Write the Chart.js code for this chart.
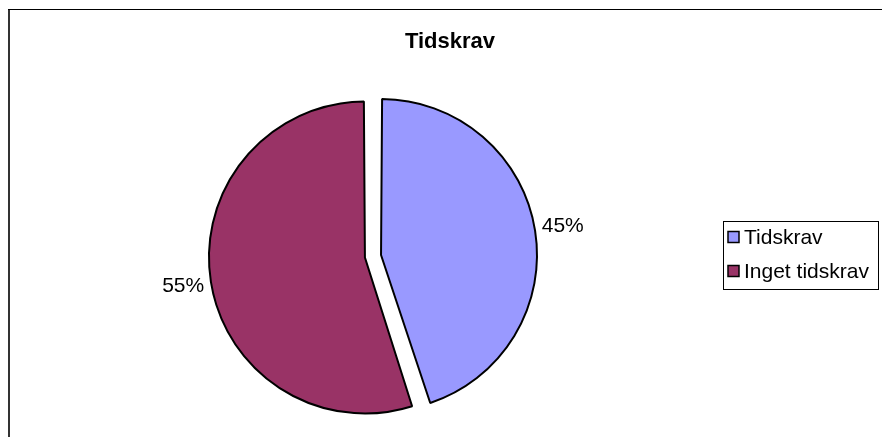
<!DOCTYPE html>
<html>
<head>
<meta charset="utf-8">
<script src="https://cdn.jsdelivr.net/npm/chart.js@4/dist/chart.umd.min.js"></script>
<style>
  html, body { margin: 0; padding: 0; background: #fff; }
  #wrap { width: 882px; height: 437px; }
</style>
</head>
<body>
<div id="wrap"><canvas id="chart" width="882" height="437"></canvas></div>
<script>
const title = 'Tidskrav';
const labels = ['Tidskrav', 'Inget tidskrav'];
const values = [45, 55];
const colors = ['#9999FF', '#993366'];
// explode amounts (Chart.js moves a slice by offset / 4)
const offsets = [38.6, 26.6];

const font = '"Liberation Sans", Arial, sans-serif';

// frame, title, percent labels and legend box
const decor = {
  id: 'decor',
  beforeDraw(chart) {
    const ctx = chart.ctx;
    ctx.save();
    ctx.fillStyle = '#fff';
    ctx.fillRect(0, 0, chart.width, chart.height);
    ctx.fillStyle = '#333';
    ctx.fillRect(8, 9, 2, chart.height);
    ctx.fillStyle = '#000';
    ctx.fillRect(8, 9, chart.width, 1);
    ctx.restore();
  },
  afterDraw(chart) {
    const ctx = chart.ctx;
    const meta = chart.getDatasetMeta(0);
    const total = values.reduce((a, b) => a + b, 0);
    ctx.save();
    ctx.fillStyle = '#000';
    ctx.textAlign = 'center';
    ctx.textBaseline = 'middle';
    ctx.font = 'bold 22px ' + font;
    ctx.fillText(title, 450, 42);

    ctx.font = '21px ' + font;
    meta.data.forEach((arc, i) => {
      const p = arc.getProps(['x', 'y', 'startAngle', 'endAngle']);
      const mid = (p.startAngle + p.endAngle) / 2;
      const d = offsets[i] / 4 + 184;
      const pct = Math.round(values[i] / total * 100) + '%';
      ctx.fillText(pct, p.x + Math.cos(mid) * d, p.y + Math.sin(mid) * d);
    });

    // legend
    ctx.strokeStyle = '#000';
    ctx.lineWidth = 1;
    ctx.strokeRect(723.5, 221.5, 155, 68);
    ctx.textAlign = 'left';
    labels.forEach((lab, i) => {
      const y = 237 + i * 34;
      ctx.fillStyle = colors[i];
      ctx.fillRect(728, y - 5.5, 11, 11);
      ctx.lineWidth = 1.5;
      ctx.strokeRect(728, y - 5.5, 11, 11);
      ctx.fillStyle = '#000';
      ctx.fillText(lab, 744, y + 1);
    });
    ctx.restore();
  }
};

new Chart(document.getElementById('chart'), {
  type: 'pie',
  data: {
    labels,
    datasets: [{
      data: values,
      backgroundColor: colors,
      borderColor: '#000',
      borderWidth: 2,
      offset: offsets,
      radius: 149.3
    }]
  },
  options: {
    responsive: false,
    animation: false,
    layout: { padding: { left: 200, right: 339, top: 100, bottom: 24 } },
    plugins: {
      legend: { display: false },
      title: { display: false },
      tooltip: { enabled: false }
    }
  },
  plugins: [decor]
});
</script>
</body>
</html>
